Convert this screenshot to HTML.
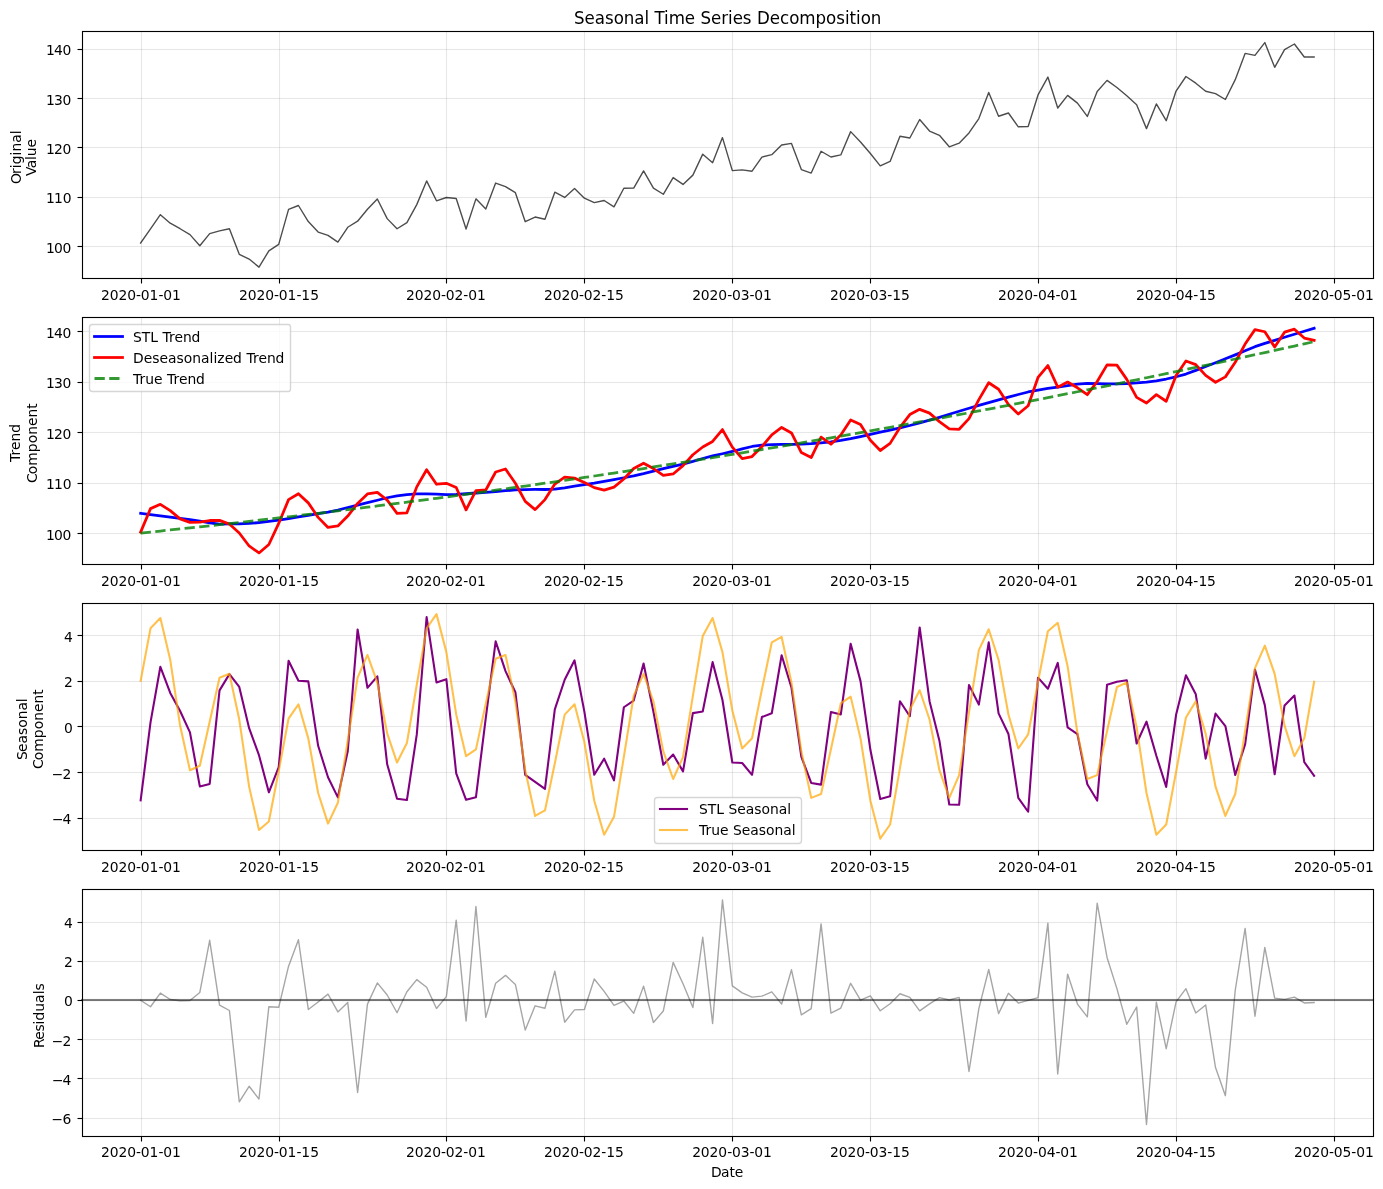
<!DOCTYPE html>
<html lang="en">
<head>
<meta charset="utf-8">
<title>Seasonal Time Series Decomposition</title>
<style>
html,body{margin:0;padding:0;background:#fff}
svg{display:block}
text{font-family:"DejaVu Sans","Liberation Sans",sans-serif;fill:#000}
.g{stroke:#b0b0b0;stroke-opacity:.3;stroke-width:1.111}
.h{fill:#b0b0b0;fill-opacity:.3}
.k{stroke:#000;stroke-width:1.111}
.s{fill:none;stroke:#000;stroke-width:1.111}
.d{fill:none;stroke-linejoin:round}
.t{font-size:13.889px}
</style>
</head>
<body>
<svg width="1383" height="1189" viewBox="0 0 1383 1189">
<rect width="1383" height="1189" fill="#fff"/>
<path class="g" d="M141.5 278.5L141.5 31.5"/>
<path class="k" d="M141.5 278.5v5"/>
<text class="t" transform="translate(100.9 300.11) scale(1 1.01)" x="0 8.75 17.5 26.25 35 39.875 48.625 57.5 62.375 71.125">2020-01-01</text>
<path class="g" d="M279.5 278.5L279.5 31.5"/>
<path class="k" d="M279.5 278.5v5"/>
<text class="t" transform="translate(238.96 300.11) scale(1 1.01)" x="0 8.75 17.5 26.25 35 39.875 48.625 57.5 62.375 71.25">2020-01-15</text>
<path class="g" d="M446.5 278.5L446.5 31.5"/>
<path class="k" d="M446.5 278.5v5"/>
<text class="t" transform="translate(405.91 300.11) scale(1 1.01)" x="0 8.75 17.5 26.25 35 39.875 48.625 57.375 62.25 71">2020-02-01</text>
<path class="g" d="M584.5 278.5L584.5 31.5"/>
<path class="k" d="M584.5 278.5v5"/>
<text class="t" transform="translate(543.97 300.11) scale(1 1.01)" x="0 8.75 17.5 26.25 35 39.875 48.625 57.375 62.25 71.125">2020-02-15</text>
<path class="g" d="M732.5 278.5L732.5 31.5"/>
<path class="k" d="M732.5 278.5v5"/>
<text class="t" transform="translate(692.13 300.11) scale(1 1.01)" x="0 8.75 17.5 26.25 35 39.875 48.625 57.375 62.25 71">2020-03-01</text>
<path class="g" d="M870.5 278.5L870.5 31.5"/>
<path class="k" d="M870.5 278.5v5"/>
<text class="t" transform="translate(829.94 300.11) scale(1 1.01)" x="0 8.75 17.5 26.25 35 39.875 48.625 57.375 62.25 71.125">2020-03-15</text>
<path class="g" d="M1038.5 278.5L1038.5 31.5"/>
<path class="k" d="M1038.5 278.5v5"/>
<text class="t" transform="translate(998.08 300.11) scale(1 1.01)" x="0 8.75 17.5 26.25 35 39.875 48.625 57.375 62.25 71">2020-04-01</text>
<path class="g" d="M1176.5 278.5L1176.5 31.5"/>
<path class="k" d="M1176.5 278.5v5"/>
<text class="t" transform="translate(1135.89 300.11) scale(1 1.01)" x="0 8.75 17.5 26.25 35 39.875 48.625 57.375 62.5 71.125">2020-04-15</text>
<path class="g" d="M1334.5 278.5L1334.5 31.5"/>
<path class="k" d="M1334.5 278.5v5"/>
<text class="t" transform="translate(1293.91 300.11) scale(1 1.01)" x="0 8.75 17.5 26.25 35 39.875 48.625 57.375 62.25 71">2020-05-01</text>
<rect class="h" x="82.5" y="245.944" width="1291" height="1.111"/>
<path class="k" d="M82.5 246.5h-5"/>
<text class="t" transform="translate(45.13 252.79) scale(1 1.01)" x="0.75 8.875 17.5">100</text>
<rect class="h" x="82.5" y="196.944" width="1291" height="1.111"/>
<path class="k" d="M82.5 197.5h-5"/>
<text class="t" transform="translate(45.26 203.37) scale(1 1.01)" x="0.75 8.875 17.5">110</text>
<rect class="h" x="82.5" y="146.944" width="1291" height="1.111"/>
<path class="k" d="M82.5 147.5h-5"/>
<text class="t" transform="translate(45.13 153.94) scale(1 1.01)" x="0.75 8.875 17.5">120</text>
<rect class="h" x="82.5" y="97.944" width="1291" height="1.111"/>
<path class="k" d="M82.5 98.5h-5"/>
<text class="t" transform="translate(45.13 104.52) scale(1 1.01)" x="0.75 8.875 17.5">130</text>
<rect class="h" x="82.5" y="48.944" width="1291" height="1.111"/>
<path class="k" d="M82.5 49.5h-5"/>
<text class="t" transform="translate(45.13 55.09) scale(1 1.01)" x="0.75 8.875 17.5">140</text>
<text class="t" transform="translate(21 184.86) rotate(-90)" x="0.75 10.875 16.625 20.5 29.375 33.25 42 50.625">Original</text>
<text class="t" transform="translate(36.45 176.67) rotate(-90)" x="0.625 8.5 16.625 20.5 29.125">Value</text>
<path class="d" d="M140.65 243.01L150.51 228.96L160.37 214.69L170.24 223.23L180.1 228.73L189.96 234.63L199.82 245.73L209.68 233.65L219.54 230.92L229.4 228.71L239.26 254.35L249.12 259.04L258.99 267.16L268.85 250.88L278.71 244.36L288.57 209.42L298.43 205.49L308.29 221.56L318.15 232.07L328.01 235.35L337.87 242.13L347.74 227.28L357.6 221.19L367.46 209.25L377.32 198.96L387.18 218.63L397.04 228.72L406.9 222.57L416.76 204.64L426.63 180.92L436.49 200.79L446.35 197.51L456.21 198.45L466.07 228.98L475.93 198.85L485.79 208.93L495.65 183.03L505.51 186.61L515.38 192.68L525.24 221.69L535.1 217.05L544.96 219.21L554.82 192.19L564.68 197.43L574.54 188.56L584.4 198.13L594.26 202.62L604.13 200.52L613.99 206.88L623.85 188.2L633.71 188.05L643.57 170.96L653.43 188.12L663.29 194.28L673.15 177.58L683.02 184.41L692.88 175.12L702.74 154.16L712.6 162.66L722.46 137.6L732.32 170.6L742.18 169.87L752.04 171.22L761.9 157.06L771.77 154.63L781.63 144.98L791.49 143.4L801.35 169.54L811.21 173.05L821.07 151.27L830.93 157.02L840.79 154.94L850.65 131.64L860.52 141.95L870.38 153.52L880.24 165.81L890.1 161.41L899.96 136.21L909.82 137.97L919.68 119.52L929.54 131.05L939.41 135.31L949.27 146.78L959.13 143.2L968.99 132.97L978.85 118.54L988.71 92.45L998.57 116.26L1008.43 112.98L1018.29 126.78L1028.16 126.58L1038.02 94.92L1047.88 77.04L1057.74 108.05L1067.6 95.38L1077.46 103.08L1087.32 116.42L1097.18 91.5L1107.04 80.4L1116.91 87.53L1126.77 95.82L1136.63 104.65L1146.49 128.63L1156.35 103.92L1166.21 120.69L1176.07 91.07L1185.93 76.49L1195.8 83.18L1205.66 91.25L1215.52 93.58L1225.38 99.51L1235.24 79.67L1245.1 53.43L1254.96 55.37L1264.82 42.56L1274.68 67.29L1284.55 49.69L1294.41 44.01L1304.27 56.99L1314.13 56.94" stroke="#000" stroke-width="1.389" stroke-opacity="0.7" stroke-linecap="square"/>
<rect class="s" x="82.5" y="31.5" width="1291" height="247"/>
<text font-size="16.667px" transform="translate(574.02 24) scale(1 1.07)" x="0 10.5 20.75 30.875 39.625 49.75 60.25 70.375 75 80.375 90 94.625 110.75 121.125 126.375 136.875 147.125 154 158.625 168.75 177.625 182.875 195.75 206 215.125 225.25 241.5 252 262.125 270.875 275.5 282 286.625 296.75">Seasonal Time Series Decomposition</text>
<path class="g" d="M141.5 564.5L141.5 317.5"/>
<path class="k" d="M141.5 564.5v5"/>
<text class="t" transform="translate(100.9 585.89) scale(1 1.01)" x="0 8.75 17.5 26.25 35 39.875 48.625 57.5 62.375 71.125">2020-01-01</text>
<path class="g" d="M279.5 564.5L279.5 317.5"/>
<path class="k" d="M279.5 564.5v5"/>
<text class="t" transform="translate(238.96 585.89) scale(1 1.01)" x="0 8.75 17.5 26.25 35 39.875 48.625 57.5 62.375 71.25">2020-01-15</text>
<path class="g" d="M446.5 564.5L446.5 317.5"/>
<path class="k" d="M446.5 564.5v5"/>
<text class="t" transform="translate(405.91 585.89) scale(1 1.01)" x="0 8.75 17.5 26.25 35 39.875 48.625 57.375 62.25 71">2020-02-01</text>
<path class="g" d="M584.5 564.5L584.5 317.5"/>
<path class="k" d="M584.5 564.5v5"/>
<text class="t" transform="translate(543.97 585.89) scale(1 1.01)" x="0 8.75 17.5 26.25 35 39.875 48.625 57.375 62.25 71.125">2020-02-15</text>
<path class="g" d="M732.5 564.5L732.5 317.5"/>
<path class="k" d="M732.5 564.5v5"/>
<text class="t" transform="translate(692.13 585.89) scale(1 1.01)" x="0 8.75 17.5 26.25 35 39.875 48.625 57.375 62.25 71">2020-03-01</text>
<path class="g" d="M870.5 564.5L870.5 317.5"/>
<path class="k" d="M870.5 564.5v5"/>
<text class="t" transform="translate(829.94 585.89) scale(1 1.01)" x="0 8.75 17.5 26.25 35 39.875 48.625 57.375 62.25 71.125">2020-03-15</text>
<path class="g" d="M1038.5 564.5L1038.5 317.5"/>
<path class="k" d="M1038.5 564.5v5"/>
<text class="t" transform="translate(998.08 585.89) scale(1 1.01)" x="0 8.75 17.5 26.25 35 39.875 48.625 57.375 62.25 71">2020-04-01</text>
<path class="g" d="M1176.5 564.5L1176.5 317.5"/>
<path class="k" d="M1176.5 564.5v5"/>
<text class="t" transform="translate(1135.89 585.89) scale(1 1.01)" x="0 8.75 17.5 26.25 35 39.875 48.625 57.375 62.5 71.125">2020-04-15</text>
<path class="g" d="M1334.5 564.5L1334.5 317.5"/>
<path class="k" d="M1334.5 564.5v5"/>
<text class="t" transform="translate(1293.91 585.89) scale(1 1.01)" x="0 8.75 17.5 26.25 35 39.875 48.625 57.375 62.25 71">2020-05-01</text>
<rect class="h" x="82.5" y="532.944" width="1291" height="1.111"/>
<path class="k" d="M82.5 533.5h-5"/>
<text class="t" transform="translate(45.13 539.55) scale(1 1.01)" x="0.75 8.875 17.5">100</text>
<rect class="h" x="82.5" y="482.944" width="1291" height="1.111"/>
<path class="k" d="M82.5 483.5h-5"/>
<text class="t" transform="translate(45.26 489.13) scale(1 1.01)" x="0.75 8.875 17.5">110</text>
<rect class="h" x="82.5" y="431.944" width="1291" height="1.111"/>
<path class="k" d="M82.5 432.5h-5"/>
<text class="t" transform="translate(45.13 438.71) scale(1 1.01)" x="0.75 8.875 17.5">120</text>
<rect class="h" x="82.5" y="381.944" width="1291" height="1.111"/>
<path class="k" d="M82.5 382.5h-5"/>
<text class="t" transform="translate(45.13 388.3) scale(1 1.01)" x="0.75 8.875 17.5">130</text>
<rect class="h" x="82.5" y="330.944" width="1291" height="1.111"/>
<path class="k" d="M82.5 331.5h-5"/>
<text class="t" transform="translate(45.13 337.88) scale(1 1.01)" x="0.75 8.875 17.5">140</text>
<text class="t" transform="translate(20 461.95) rotate(-90)" x="0 6.5 12 20.5 29.25">Trend</text>
<text class="t" transform="translate(37.45 483.95) rotate(-90)" x="0.875 9.75 18.25 31.75 40.625 49.125 57.875 66.375 75.125">Component</text>
<path class="d" d="M140.65 513.28L150.51 514.51L160.37 515.77L170.24 517.05L180.1 518.35L189.96 519.7L199.82 521.14L209.68 522.79L219.54 524.03L229.4 523.97L239.26 523.81L249.12 523.46L258.99 522.51L268.85 521.41L278.71 520.2L288.57 518.64L298.43 516.98L308.29 515.33L318.15 513.74L328.01 512.14L337.87 510.04L347.74 507.51L357.6 505.09L367.46 502.72L377.32 500.23L387.18 497.75L397.04 495.84L406.9 494.68L416.76 493.97L426.63 493.82L436.49 494.17L446.35 494.6L456.21 494.4L466.07 493.75L475.93 493.01L485.79 492.36L495.65 491.63L505.51 490.73L515.38 489.92L525.24 489.52L535.1 489.46L544.96 489.51L554.82 489.05L564.68 487.81L574.54 486.21L584.4 484.7L594.26 483.2L604.13 481.43L613.99 479.52L623.85 477.75L633.71 475.91L643.57 473.68L653.43 471.19L663.29 468.68L673.15 466.41L683.02 464.15L692.88 461.44L702.74 458.49L712.6 455.9L722.46 453.74L732.32 451.47L742.18 448.83L752.04 446.49L761.9 445.07L771.77 444.56L781.63 444.41L791.49 444.41L801.35 444.2L811.21 443.63L821.07 442.83L830.93 441.78L840.79 440.45L850.65 438.68L860.52 436.57L870.38 434.3L880.24 432.1L890.1 430.05L899.96 427.92L909.82 425.49L919.68 422.82L929.54 420.07L939.41 417.29L949.27 414.28L959.13 411.23L968.99 408.21L978.85 405.32L988.71 402.54L998.57 399.79L1008.43 397.12L1018.29 394.52L1028.16 391.97L1038.02 390.02L1047.88 388.49L1057.74 387.05L1067.6 385.54L1077.46 384.18L1087.32 383.47L1097.18 383.63L1107.04 383.94L1116.91 383.9L1126.77 383.53L1136.63 382.97L1146.49 382.08L1156.35 380.77L1166.21 379.02L1176.07 376.78L1185.93 374.06L1195.8 370.42L1205.66 366.48L1215.52 362.71L1225.38 358.8L1235.24 354.85L1245.1 350.72L1254.96 346.68L1264.82 343.44L1274.68 340.34L1284.55 337.28L1294.41 334.27L1304.27 331.28L1314.13 328.34" stroke="#00f" stroke-width="2.778" stroke-linecap="square"/>
<path class="d" d="M140.65 532.08L150.51 508.64L160.37 504.34L170.24 510.61L180.1 518.87L189.96 522.43L199.82 522.09L209.68 520.51L219.54 520.37L229.4 524.08L239.26 533L249.12 545.98L258.99 552.94L268.85 544.52L278.71 523.42L288.57 499.65L298.43 493.74L308.29 502.89L318.15 517.36L328.01 527.43L337.87 525.93L347.74 516.03L357.6 503.47L367.46 493.99L377.32 492.43L387.18 500.07L397.04 513.33L406.9 512.86L416.76 486.88L426.63 469.75L436.49 484.24L446.35 483.28L456.21 487.46L466.07 509.82L475.93 490.69L485.79 489.99L495.65 471.96L505.51 468.99L515.38 483.26L525.24 501.37L535.1 509.64L544.96 499.6L554.82 484.04L564.68 477.22L574.54 478.14L584.4 482.47L594.26 487.61L604.13 490.14L613.99 487.12L623.85 479.05L633.71 468.53L643.57 463.26L653.43 468.57L663.29 475.42L673.15 473.96L683.02 465.6L692.88 454.78L702.74 447.03L712.6 441.44L722.46 429.58L732.32 447.18L742.18 458.69L752.04 456.52L761.9 446.57L771.77 434.77L781.63 427.48L791.49 432.99L801.35 452.57L811.21 457.6L821.07 437.08L830.93 444.23L840.79 434.91L850.65 419.93L860.52 424.53L870.38 440.31L880.24 450.5L890.1 443.37L899.96 427.46L909.82 414.58L919.68 409.35L929.54 413.16L939.41 421.63L949.27 428.94L959.13 429.29L968.99 418.58L978.85 399.67L988.71 382.74L998.57 389.26L1008.43 404.58L1018.29 414.04L1028.16 405.75L1038.02 377.48L1047.88 365.53L1057.74 387.19L1067.6 382.05L1077.46 387.78L1087.32 394.69L1097.18 381.48L1107.04 364.84L1116.91 365.12L1126.77 379.37L1136.63 397.35L1146.49 403.04L1156.35 394.64L1166.21 401.23L1176.07 375.47L1185.93 360.97L1195.8 364.64L1205.66 375.41L1215.52 382.24L1225.38 376.86L1235.24 362.22L1245.1 344.09L1254.96 329.64L1264.82 331.75L1274.68 347.09L1284.55 332.18L1294.41 329.2L1304.27 338.04L1314.13 340.39" stroke="#f00" stroke-width="2.778" stroke-linecap="square"/>
<path class="d" d="M140.65 533.05L150.51 532.04L160.37 531.01L170.24 529.98L180.1 528.94L189.96 527.88L199.82 526.82L209.68 525.74L219.54 524.66L229.4 523.57L239.26 522.46L249.12 521.35L258.99 520.22L268.85 519.09L278.71 517.94L288.57 516.79L298.43 515.62L308.29 514.45L318.15 513.27L328.01 512.07L337.87 510.87L347.74 509.65L357.6 508.43L367.46 507.19L377.32 505.94L387.18 504.69L397.04 503.42L406.9 502.15L416.76 500.86L426.63 499.57L436.49 498.26L446.35 496.95L456.21 495.62L466.07 494.28L475.93 492.94L485.79 491.58L495.65 490.21L505.51 488.84L515.38 487.45L525.24 486.06L535.1 484.65L544.96 483.23L554.82 481.8L564.68 480.37L574.54 478.92L584.4 477.46L594.26 476L604.13 474.52L613.99 473.03L623.85 471.53L633.71 470.03L643.57 468.51L653.43 466.98L663.29 465.44L673.15 463.9L683.02 462.34L692.88 460.77L702.74 459.19L712.6 457.6L722.46 456.01L732.32 454.4L742.18 452.78L752.04 451.15L761.9 449.51L771.77 447.86L781.63 446.21L791.49 444.54L801.35 442.86L811.21 441.17L821.07 439.47L830.93 437.76L840.79 436.04L850.65 434.31L860.52 432.57L870.38 430.82L880.24 429.06L890.1 427.29L899.96 425.51L909.82 423.72L919.68 421.92L929.54 420.11L939.41 418.29L949.27 416.46L959.13 414.62L968.99 412.77L978.85 410.91L988.71 409.04L998.57 407.16L1008.43 405.27L1018.29 403.37L1028.16 401.46L1038.02 399.54L1047.88 397.61L1057.74 395.67L1067.6 393.72L1077.46 391.75L1087.32 389.78L1097.18 387.8L1107.04 385.81L1116.91 383.81L1126.77 381.8L1136.63 379.77L1146.49 377.74L1156.35 375.7L1166.21 373.65L1176.07 371.59L1185.93 369.51L1195.8 367.43L1205.66 365.34L1215.52 363.24L1225.38 361.13L1235.24 359L1245.1 356.87L1254.96 354.73L1264.82 352.57L1274.68 350.41L1284.55 348.24L1294.41 346.06L1304.27 343.86L1314.13 341.66" stroke="#008000" stroke-width="2.778" stroke-opacity="0.8" stroke-dasharray="10.278,4.444"/>
<rect class="s" x="82.5" y="317.5" width="1291" height="247"/>
<path d="M92.5 391.5L288.5 391.5Q290.5 391.5 290.5 388.5L290.5 327.5Q290.5 324.5 288.5 324.5L92.5 324.5Q89.5 324.5 89.5 327.5L89.5 388.5Q89.5 391.5 92.5 391.5Z" fill="#fff" fill-opacity="0.8" stroke="#ccc" stroke-opacity="0.8" stroke-width="1.389" stroke-linejoin="miter"/>
<path class="d" d="M94.5 336.5L122.5 336.5" stroke="#00f" stroke-width="2.778" stroke-linecap="square"/>
<text class="t" transform="translate(133.12 341.61) scale(1 1.01)" x="0 8.75 17.25 25 29.375 35.875 41.375 49.875 58.5">STL Trend</text>
<path class="d" d="M94.5 357.5L122.5 357.5" stroke="#f00" stroke-width="2.778" stroke-linecap="square"/>
<text class="t" transform="translate(133.12 362.56) scale(1 1.01)" x="0 10.75 19.25 26.375 34.875 43.5 50.625 59.125 67.875 76.5 80.375 84.25 91.625 100 109 113.375 119.875 125.375 133.875 142.5">Deseasonalized Trend</text>
<path class="d" d="M94.5 378.5L122.5 378.5" stroke="#008000" stroke-width="2.778" stroke-opacity="0.8" stroke-dasharray="10.278,4.444"/>
<text class="t" transform="translate(133.12 383.5) scale(1 1.01)" x="0 6.5 12.25 21 29.5 33.875 40.375 45.875 54.375 63">True Trend</text>
<path class="g" d="M141.5 850.5L141.5 603.5"/>
<path class="k" d="M141.5 850.5v5"/>
<text class="t" transform="translate(100.9 871.67) scale(1 1.01)" x="0 8.75 17.5 26.25 35 39.875 48.625 57.5 62.375 71.125">2020-01-01</text>
<path class="g" d="M279.5 850.5L279.5 603.5"/>
<path class="k" d="M279.5 850.5v5"/>
<text class="t" transform="translate(238.96 871.67) scale(1 1.01)" x="0 8.75 17.5 26.25 35 39.875 48.625 57.5 62.375 71.25">2020-01-15</text>
<path class="g" d="M446.5 850.5L446.5 603.5"/>
<path class="k" d="M446.5 850.5v5"/>
<text class="t" transform="translate(405.91 871.67) scale(1 1.01)" x="0 8.75 17.5 26.25 35 39.875 48.625 57.375 62.25 71">2020-02-01</text>
<path class="g" d="M584.5 850.5L584.5 603.5"/>
<path class="k" d="M584.5 850.5v5"/>
<text class="t" transform="translate(543.97 871.67) scale(1 1.01)" x="0 8.75 17.5 26.25 35 39.875 48.625 57.375 62.25 71.125">2020-02-15</text>
<path class="g" d="M732.5 850.5L732.5 603.5"/>
<path class="k" d="M732.5 850.5v5"/>
<text class="t" transform="translate(692.13 871.67) scale(1 1.01)" x="0 8.75 17.5 26.25 35 39.875 48.625 57.375 62.25 71">2020-03-01</text>
<path class="g" d="M870.5 850.5L870.5 603.5"/>
<path class="k" d="M870.5 850.5v5"/>
<text class="t" transform="translate(829.94 871.67) scale(1 1.01)" x="0 8.75 17.5 26.25 35 39.875 48.625 57.375 62.25 71.125">2020-03-15</text>
<path class="g" d="M1038.5 850.5L1038.5 603.5"/>
<path class="k" d="M1038.5 850.5v5"/>
<text class="t" transform="translate(998.08 871.67) scale(1 1.01)" x="0 8.75 17.5 26.25 35 39.875 48.625 57.375 62.25 71">2020-04-01</text>
<path class="g" d="M1176.5 850.5L1176.5 603.5"/>
<path class="k" d="M1176.5 850.5v5"/>
<text class="t" transform="translate(1135.89 871.67) scale(1 1.01)" x="0 8.75 17.5 26.25 35 39.875 48.625 57.375 62.5 71.125">2020-04-15</text>
<path class="g" d="M1334.5 850.5L1334.5 603.5"/>
<path class="k" d="M1334.5 850.5v5"/>
<text class="t" transform="translate(1293.91 871.67) scale(1 1.01)" x="0 8.75 17.5 26.25 35 39.875 48.625 57.375 62.25 71">2020-05-01</text>
<rect class="h" x="82.5" y="817.944" width="1291" height="1.111"/>
<path class="k" d="M82.5 818.5h-5"/>
<text class="t" transform="translate(50.88 824.13) scale(1 1.01)" x="1.125 11.625">−4</text>
<rect class="h" x="82.5" y="771.944" width="1291" height="1.111"/>
<path class="k" d="M82.5 772.5h-5"/>
<text class="t" transform="translate(51.13 778.52) scale(1 1.01)" x="0.625 11.5">−2</text>
<rect class="h" x="82.5" y="725.944" width="1291" height="1.111"/>
<path class="k" d="M82.5 726.5h-5"/>
<text class="t" transform="translate(64.01 732.92) scale(1 1.01)">0</text>
<rect class="h" x="82.5" y="680.944" width="1291" height="1.111"/>
<path class="k" d="M82.5 681.5h-5"/>
<text class="t" transform="translate(64.01 687.31) scale(1 1.01)">2</text>
<rect class="h" x="82.5" y="634.944" width="1291" height="1.111"/>
<path class="k" d="M82.5 635.5h-5"/>
<text class="t" transform="translate(64.01 641.71) scale(1 1.01)">4</text>
<text class="t" transform="translate(27.12 760.79) rotate(-90)" x="0.75 8.75 17.25 25.875 33 41.5 50.25 58.625">Seasonal</text>
<text class="t" transform="translate(43.33 769.98) rotate(-90)" x="0.875 9.75 18.25 31.75 40.625 49.125 57.875 66.375 75.125">Component</text>
<path class="d" d="M140.65 800.39L150.51 722.44L160.37 666.8L170.24 692.94L180.1 711L189.96 732.37L199.82 786.42L209.68 783.92L219.54 690.35L229.4 674.11L239.26 686.96L249.12 728.23L258.99 755.17L268.85 792.34L278.71 767.13L288.57 660.78L298.43 680.82L308.29 681.39L318.15 745.81L328.01 777.3L337.87 797.34L347.74 751.24L357.6 629.51L367.46 687.82L377.32 676.31L387.18 764.25L397.04 798.75L406.9 800.06L416.76 734.7L426.63 617.04L436.49 682.43L446.35 679.14L456.21 773.41L466.07 799.81L475.93 797.3L485.79 717.82L495.65 641.3L505.51 671.07L515.38 692.24L525.24 774.86L535.1 781.87L544.96 788.79L554.82 709.39L564.68 679.78L574.54 660.34L584.4 711.83L594.26 774.78L604.13 758.69L613.99 780.33L623.85 707.25L633.71 700.59L643.57 663.45L653.43 711.67L663.29 764.69L673.15 754.51L683.02 771.39L692.88 713.11L702.74 711.53L712.6 662.13L722.46 700.01L732.32 762.53L742.18 762.98L752.04 774.81L761.9 717.04L771.77 713.25L781.63 655.25L791.49 687.73L801.35 756.86L811.21 782.93L821.07 784.62L830.93 712.08L840.79 714.41L850.65 643.68L860.52 681.12L870.38 749.79L880.24 799.05L890.1 796.3L899.96 701.24L909.82 716.22L919.68 627.47L929.54 701.18L939.41 740.68L949.27 804.48L959.13 804.79L968.99 685.08L978.85 704.64L988.71 642.32L998.57 713.4L1008.43 733.95L1018.29 797.95L1028.16 811.75L1038.02 677.68L1047.88 688.76L1057.74 662.87L1067.6 727.41L1077.46 734.22L1087.32 784.19L1097.18 800.58L1107.04 684.86L1116.91 681.74L1126.77 680.18L1136.63 743.52L1146.49 721.6L1156.35 755.79L1166.21 786.89L1176.07 714.78L1185.93 675.28L1195.8 694.31L1205.66 758.63L1215.52 713.61L1225.38 726.04L1235.24 774.94L1245.1 744.55L1254.96 669.58L1264.82 705.14L1274.68 774.32L1284.55 705.42L1294.41 695.51L1304.27 762.15L1314.13 775.72" stroke="#800080" stroke-width="2.083" stroke-linecap="square"/>
<path class="d" d="M140.65 680.81L150.51 628.32L160.37 618.06L170.24 659.84L180.1 725.58L189.96 770.31L199.82 765.81L209.68 721.65L219.54 677.7L229.4 673.82L239.26 719.54L249.12 786.61L258.99 830L268.85 821.56L278.71 771.03L288.57 718.54L298.43 704.33L308.29 738.4L318.15 792.99L328.01 823.63L337.87 802.7L347.74 740.51L357.6 677.7L367.46 654.96L377.32 682.64L387.18 733.3L397.04 762.59L406.9 743L416.76 684.75L426.63 628.32L436.49 614.12L446.35 652.13L456.21 714.44L466.07 756.21L475.93 749.38L485.79 703.61L495.65 658.84L505.51 654.96L515.38 701.5L525.24 770.19L535.1 815.91L544.96 810.42L554.82 763.31L564.68 714.6L574.54 704.33L584.4 742.34L594.26 800.71L604.13 834.77L613.99 816.8L623.85 756.93L633.71 695.74L643.57 673.82L653.43 701.5L663.29 751.33L673.15 779.02L683.02 757.1L692.88 695.9L702.74 636.04L712.6 618.06L722.46 652.13L732.32 710.49L742.18 748.5L752.04 738.24L761.9 689.52L771.77 642.42L781.63 636.92L791.49 682.64L801.35 751.33L811.21 797.88L821.07 793.99L830.93 749.22L840.79 703.45L850.65 696.62L860.52 738.4L870.38 800.71L880.24 838.71L890.1 824.51L899.96 768.08L909.82 709.83L919.68 690.24L929.54 719.54L939.41 770.19L949.27 797.88L959.13 775.13L968.99 712.32L978.85 650.13L988.71 629.21L998.57 659.84L1008.43 714.44L1018.29 748.5L1028.16 734.29L1038.02 681.81L1047.88 631.27L1057.74 622.83L1067.6 666.22L1077.46 733.3L1087.32 779.02L1097.18 775.13L1107.04 731.18L1116.91 687.03L1126.77 682.53L1136.63 727.25L1146.49 792.99L1156.35 834.77L1166.21 824.51L1176.07 772.02L1185.93 717.54L1195.8 701.39L1205.66 733.63L1215.52 786.61L1225.38 815.91L1235.24 793.99L1245.1 731.18L1254.96 668.17L1264.82 645.63L1274.68 673.93L1284.55 725.58L1294.41 756.21L1304.27 738.24L1314.13 681.81" stroke="#ffa500" stroke-width="2.083" stroke-opacity="0.7" stroke-linecap="square"/>
<rect class="s" x="82.5" y="603.5" width="1291" height="247"/>
<path d="M657.5 843.5L798.5 843.5Q801.5 843.5 801.5 840.5L801.5 800.5Q801.5 797.5 798.5 797.5L657.5 797.5Q654.5 797.5 654.5 800.5L654.5 840.5Q654.5 843.5 657.5 843.5Z" fill="#fff" fill-opacity="0.8" stroke="#ccc" stroke-opacity="0.8" stroke-width="1.389" stroke-linejoin="miter"/>
<rect x="658.958" y="807.958" width="29.083" height="2.083" fill="#800080" fill-opacity="1"/>
<text class="t" transform="translate(699.02 813.5) scale(1 1.01)" x="0 8.75 17.25 25 29.375 38.125 46.625 55.25 62.375 70.875 79.625 88.25">STL Seasonal</text>
<rect x="658.958" y="828.958" width="29.083" height="2.083" fill="#ffa500" fill-opacity="0.7"/>
<text class="t" transform="translate(699.02 835.44) scale(1 1.01)" x="0 6.5 12.25 21 29.5 33.875 42.625 51.125 59.75 66.875 75.375 84.125 92.75">True Seasonal</text>
<path class="g" d="M141.5 1136.5L141.5 889.5"/>
<path class="k" d="M141.5 1136.5v5"/>
<text class="t" transform="translate(100.9 1157.44) scale(1 1.01)" x="0 8.75 17.5 26.25 35 39.875 48.625 57.5 62.375 71.125">2020-01-01</text>
<path class="g" d="M279.5 1136.5L279.5 889.5"/>
<path class="k" d="M279.5 1136.5v5"/>
<text class="t" transform="translate(238.96 1157.44) scale(1 1.01)" x="0 8.75 17.5 26.25 35 39.875 48.625 57.5 62.375 71.25">2020-01-15</text>
<path class="g" d="M446.5 1136.5L446.5 889.5"/>
<path class="k" d="M446.5 1136.5v5"/>
<text class="t" transform="translate(405.91 1157.44) scale(1 1.01)" x="0 8.75 17.5 26.25 35 39.875 48.625 57.375 62.25 71">2020-02-01</text>
<path class="g" d="M584.5 1136.5L584.5 889.5"/>
<path class="k" d="M584.5 1136.5v5"/>
<text class="t" transform="translate(543.97 1157.44) scale(1 1.01)" x="0 8.75 17.5 26.25 35 39.875 48.625 57.375 62.25 71.125">2020-02-15</text>
<path class="g" d="M732.5 1136.5L732.5 889.5"/>
<path class="k" d="M732.5 1136.5v5"/>
<text class="t" transform="translate(692.13 1157.44) scale(1 1.01)" x="0 8.75 17.5 26.25 35 39.875 48.625 57.375 62.25 71">2020-03-01</text>
<path class="g" d="M870.5 1136.5L870.5 889.5"/>
<path class="k" d="M870.5 1136.5v5"/>
<text class="t" transform="translate(829.94 1157.44) scale(1 1.01)" x="0 8.75 17.5 26.25 35 39.875 48.625 57.375 62.25 71.125">2020-03-15</text>
<path class="g" d="M1038.5 1136.5L1038.5 889.5"/>
<path class="k" d="M1038.5 1136.5v5"/>
<text class="t" transform="translate(998.08 1157.44) scale(1 1.01)" x="0 8.75 17.5 26.25 35 39.875 48.625 57.375 62.25 71">2020-04-01</text>
<path class="g" d="M1176.5 1136.5L1176.5 889.5"/>
<path class="k" d="M1176.5 1136.5v5"/>
<text class="t" transform="translate(1135.89 1157.44) scale(1 1.01)" x="0 8.75 17.5 26.25 35 39.875 48.625 57.375 62.5 71.125">2020-04-15</text>
<path class="g" d="M1334.5 1136.5L1334.5 889.5"/>
<path class="k" d="M1334.5 1136.5v5"/>
<text class="t" transform="translate(1293.91 1157.44) scale(1 1.01)" x="0 8.75 17.5 26.25 35 39.875 48.625 57.375 62.25 71">2020-05-01</text>
<text class="t" transform="translate(710.2 1177) scale(1 1.01)" x="0.875 10.875 19.375 24.625">Date</text>
<rect class="h" x="82.5" y="1117.944" width="1291" height="1.111"/>
<path class="k" d="M82.5 1118.5h-5"/>
<text class="t" transform="translate(51.26 1124.13) scale(1 1.01)" x="0.25 11.375">−6</text>
<rect class="h" x="82.5" y="1077.944" width="1291" height="1.111"/>
<path class="k" d="M82.5 1078.5h-5"/>
<text class="t" transform="translate(50.88 1084.91) scale(1 1.01)" x="1.125 11.625">−4</text>
<rect class="h" x="82.5" y="1038.944" width="1291" height="1.111"/>
<path class="k" d="M82.5 1039.5h-5"/>
<text class="t" transform="translate(51.13 1045.69) scale(1 1.01)" x="0.625 11.5">−2</text>
<rect class="h" x="82.5" y="999.944" width="1291" height="1.111"/>
<path class="k" d="M82.5 1000.5h-5"/>
<text class="t" transform="translate(64.01 1006.47) scale(1 1.01)">0</text>
<rect class="h" x="82.5" y="960.944" width="1291" height="1.111"/>
<path class="k" d="M82.5 961.5h-5"/>
<text class="t" transform="translate(64.01 967.25) scale(1 1.01)">2</text>
<rect class="h" x="82.5" y="921.944" width="1291" height="1.111"/>
<path class="k" d="M82.5 922.5h-5"/>
<text class="t" transform="translate(64.01 928.03) scale(1 1.01)">4</text>
<text class="t" transform="translate(44.2 1049.07) rotate(-90)" x="1 9.375 17.5 24.625 28.5 37.375 46.125 54.75 58.625">Residuals</text>
<path class="d" d="M140.65 1000.24L150.51 1006.74L160.37 993.08L170.24 999.49L180.1 1000.69L189.96 1000.51L199.82 992.49L209.68 940.28L219.54 1005.11L229.4 1010.49L239.26 1101.8L249.12 1086.29L258.99 1099.05L268.85 1006.75L278.71 1007.3L288.57 966.18L298.43 939.77L308.29 1009.46L318.15 1001.96L328.01 994.13L337.87 1011.94L347.74 1002.54L357.6 1092.5L367.46 1004.16L377.32 982.92L387.18 994.97L397.04 1012.75L406.9 991.77L416.76 979.58L426.63 987.24L436.49 1008.49L446.35 996.62L456.21 920.09L466.07 1021.02L475.93 906.5L485.79 1017.38L495.65 983.25L505.51 975.35L515.38 984.42L525.24 1030.05L535.1 1005.81L544.96 1008.22L554.82 971.1L564.68 1022.19L574.54 1009.93L584.4 1009.51L594.26 978.99L604.13 991.4L613.99 1005.47L623.85 1001.04L633.71 1013.35L643.57 986.13L653.43 1022.45L663.29 1011.07L673.15 962.36L683.02 983.74L692.88 1007.55L702.74 937.24L712.6 1023.51L722.46 899.9L732.32 985.88L742.18 992.92L752.04 997.15L761.9 996.18L771.77 991.83L781.63 1003.98L791.49 969.78L801.35 1014.85L811.21 1008.55L821.07 923.83L830.93 1013.13L840.79 1008.02L850.65 983.31L860.52 1000.19L870.38 995.86L880.24 1010.81L890.1 1003.74L899.96 993.77L909.82 997.32L919.68 1010.83L929.54 1003.88L939.41 997.65L949.27 999.99L959.13 997.35L968.99 1071.49L978.85 1008.64L988.71 969.51L998.57 1013.58L1008.43 993.28L1018.29 1003.08L1028.16 1000.34L1038.02 997.6L1047.88 923.08L1057.74 1074.01L1067.6 974.09L1077.46 1004.08L1087.32 1016.83L1097.18 903.21L1107.04 957.48L1116.91 988.6L1126.77 1024.27L1136.63 1007.02L1146.49 1124.49L1156.35 1002.14L1166.21 1048.73L1176.07 1001.91L1185.93 988.65L1195.8 1012.96L1205.66 1004.98L1215.52 1067.58L1225.38 1095.66L1235.24 990.24L1245.1 928.33L1254.96 1016.26L1264.82 947.44L1274.68 998.12L1284.55 999.41L1294.41 997.14L1304.27 1002.94L1314.13 1002.52" stroke="#808080" stroke-width="1.389" stroke-opacity="0.7" stroke-linecap="square"/>
<rect x="80.958" y="998.958" width="1293.083" height="2.083" fill="#000" fill-opacity="0.5"/>
<rect class="s" x="82.5" y="889.5" width="1291" height="247"/>
</svg>
</body>
</html>
